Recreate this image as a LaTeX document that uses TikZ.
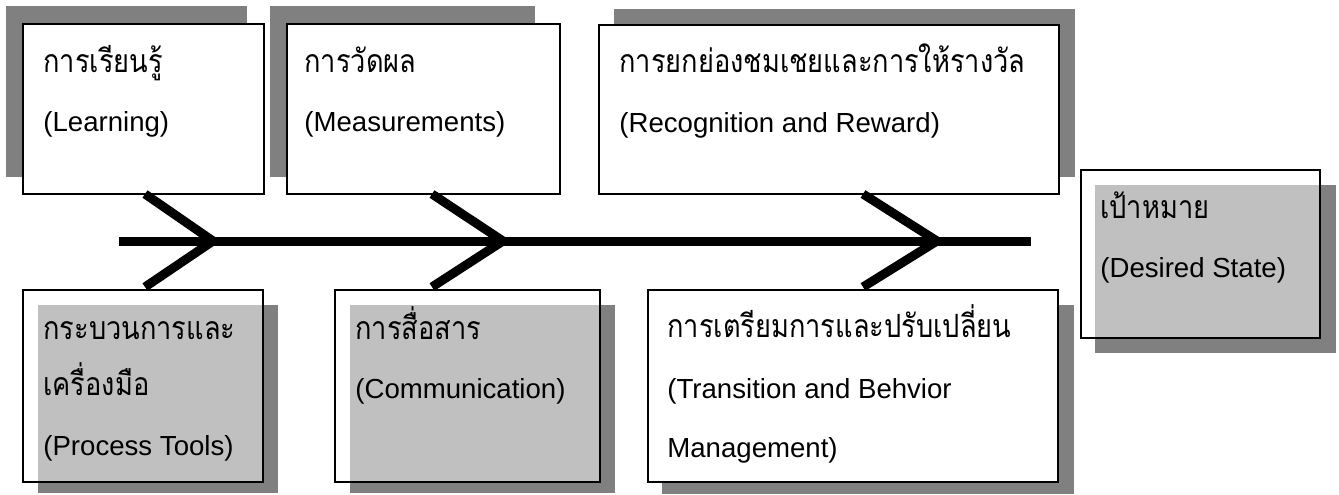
\documentclass[tikz,border=0pt]{standalone}
\usepackage{fontspec}
\setmainfont{Liberation Sans}
\newfontfamily\thaifont[Script=Thai,FakeStretch=0.85]{Loma}
\usetikzlibrary{positioning}

\definecolor{darkshadow}{HTML}{808080}
\definecolor{lightshadow}{HTML}{C0C0C0}

\tikzset{
  box/.style 2 args={draw=black, line width=1pt, minimum width=#1*0.5pt, minimum height=#2*0.5pt, anchor=north west, inner sep=0pt},
  entxt/.style={anchor=base west, inner sep=0pt, font=\fontsize{13.8}{16}\selectfont},
  thtxt/.style={anchor=base west, inner sep=0pt, font=\thaifont\fontsize{16}{19}\selectfont},
  bone/.style={line width=4.5pt, line join=miter},
}

\begin{document}
\begin{tikzpicture}[x=0.5pt,y=-0.5pt]
\useasboundingbox (0,0) rectangle (1339,494);

% upper boxes
\fill[darkshadow] (6,6) rectangle (247,177);
\node[box={241}{170}, fill=white] (learn) at (22,23) {};
\fill[darkshadow] (270,6) rectangle (535,177);
\node[box={273}{170}, fill=white] (measure) at (286,23) {};
\fill[darkshadow] (614,9) rectangle (1075,177);
\node[box={460}{169}, fill=white] (reward) at (598,24) {};

% lower boxes
\fill[darkshadow] (38,305) rectangle (278,493);
\fill[lightshadow] (38,305) rectangle (262,481);
\node[box={240}{192}] (tools) at (22,289) {};
\fill[darkshadow] (350,305) rectangle (615,493);
\fill[lightshadow] (350,305) rectangle (599,481);
\node[box={265}{192}] (comm) at (334,289) {};
\fill[darkshadow] (662,305) rectangle (1074,494);
\node[box={410}{192}, fill=white] (trans) at (647,289) {};

% goal
\fill[darkshadow] (1095,185) rectangle (1336,353);
\fill[lightshadow] (1095,185) rectangle (1319,337);
\node[box={239}{168}] (goal) at (1080,169) {};

% texts
\node[thtxt] (learnth) at (43,72) {การเรียนรู้};
\node[entxt] (learnen) at (43,131) {(Learning)};
\node[thtxt] (measureth) at (304,72) {การวัดผล};
\node[entxt] (measureen) at (304,131) {(Measurements)};
\node[thtxt] (rewardth) at (619,72) {การยกย่องชมเชยและการให้รางวัล};
\node[entxt] (rewarden) at (619,132) {(Recognition and Reward)};
\node[thtxt] (toolsth) at (43,339) {กระบวนการและ};
\node[thtxt] (toolsthb) at (43,395) {เครื่องมือ};
\node[entxt] (toolsen) at (43,455) {(Process Tools)};
\node[thtxt] (commth) at (355,339) {การสื่อสาร};
\node[entxt] (commen) at (355,398) {(Communication)};
\node[thtxt] (transth) at (667,337) {การเตรียมการและปรับเปลี่ยน};
\node[entxt] (transen) at (667,398) {(Transition and Behvior};
\node[entxt] (transenb) at (667,457) {Management)};
\node[thtxt] (goalth) at (1100,218) {เป้าหมาย};
\node[entxt] (goalen) at (1100,277) {(Desired State)};

% spine and bones
\coordinate (s0) at (119,241);
\coordinate (s1) at (213,241);
\coordinate (s2) at (503,241);
\coordinate (s3) at (937,241);
\coordinate (s4) at (1031,241);
\coordinate (b1u) at (145,194);
\coordinate (b1d) at (145,287);
\coordinate (b2u) at (432,194);
\coordinate (b2d) at (432,287);
\coordinate (b3u) at (863,194);
\coordinate (b3d) at (863,287);
\draw[bone] (s0) -- (s4);
\draw[bone] (b1u) -- (s1) -- (b1d);
\draw[bone] (b2u) -- (s2) -- (b2d);
\draw[bone] (b3u) -- (s3) -- (b3d);
\end{tikzpicture}
\end{document}
